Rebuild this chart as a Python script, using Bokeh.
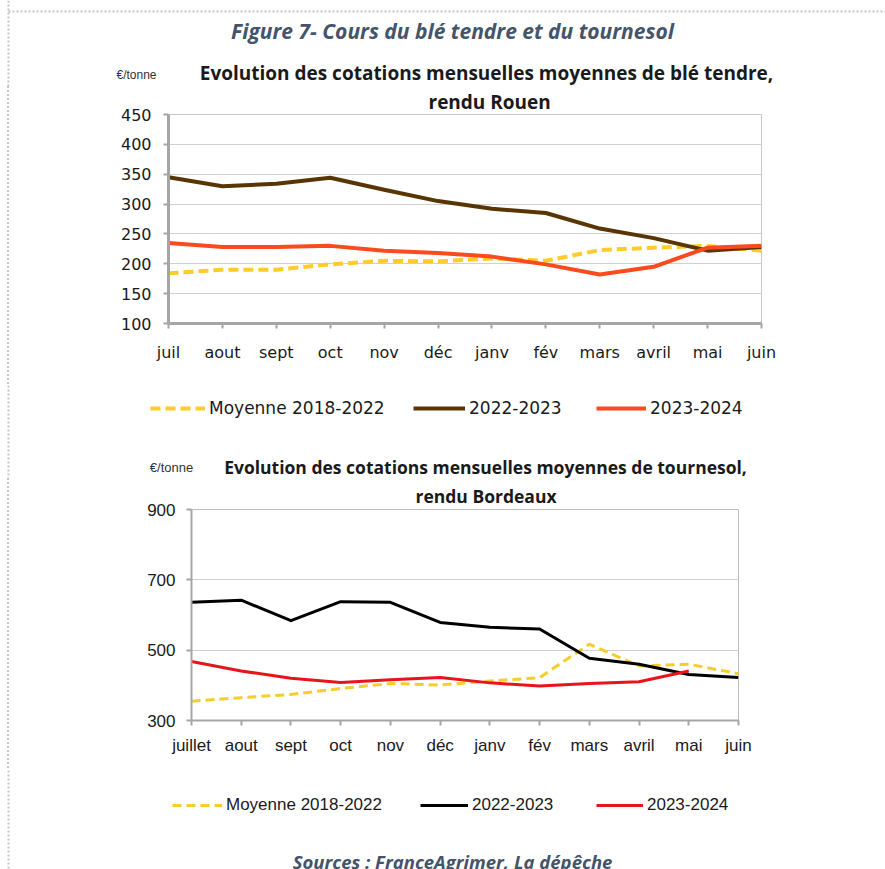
from bokeh.plotting import figure
from bokeh.models import Range1d, Label, Legend, LegendItem, FixedTicker, Span, Title
from bokeh.embed import file_html
from bokeh.resources import INLINE

# ---------------- data ----------------
months_ble = ["juil", "aout", "sept", "oct", "nov", "déc", "janv", "fév", "mars", "avril", "mai", "juin"]
months_tou = ["juillet", "aout", "sept", "oct", "nov", "déc", "janv", "fév", "mars", "avril", "mai", "juin"]

ble_moy_2018_2022 = [184, 190, 190, 199, 205, 204, 209, 205, 223, 227, 230, 222]
ble_2022_2023 = [345, 330, 334, 344, 324, 305, 292, 285, 259, 243, 222, 228]
ble_2023_2024 = [235, 228, 228, 230, 222, 218, 212, 199, 182, 195, 227, 230]

tou_moy_2018_2022 = [355, 365, 374, 391, 405, 401, 412, 422, 517, 455, 460, 433]
tou_2022_2023 = [636, 642, 584, 638, 636, 579, 565, 560, 477, 460, 431, 422]
tou_2023_2024 = [468, 441, 420, 408, 416, 422, 407, 398, 405, 410, 441]

ble_ticks = [100, 150, 200, 250, 300, 350, 400, 450]
tou_ticks = [300, 500, 700, 900]

series_labels = ["Moyenne 2018-2022", "2022-2023", "2023-2024"]

figure_title = "Figure 7- Cours du blé tendre et du tournesol"
ble_title = ["Evolution des cotations mensuelles moyennes de blé tendre,", "rendu Rouen"]
tou_title = ["Evolution des cotations mensuelles moyennes de tournesol,", "rendu Bordeaux"]
unit_label = "€/tonne"
sources = "Sources : FranceAgrimer, La dépêche"

# ---------------- styling ----------------
W = 885
TITLE_COLOR = "#44546A"
BORDER_COLOR = "#c4c4c4"
FONT1 = "DejaVu Sans"
FONT2 = "Liberation Sans"
TFONT = "Open Sans"

ble_colors = ["#ffcc29", "#5a3504", "#fb4a1d"]
tou_colors = ["#f5cd2e", "#000000", "#e8141c"]

# bands (page y): header 0-86, chart1 86-385, mid 385-478, chart2 478-770, foot 770-869
Y_C1, Y_MID, Y_C2, Y_FOOT = 86, 385, 478, 770
H_HEAD = Y_C1
H_C1 = Y_MID - Y_C1
H_MID = Y_C2 - Y_MID
H_C2 = Y_FOOT - Y_C2
H_FOOT = 869 - Y_FOOT

LEFT_DOTS = {
    "background-image": f"linear-gradient(to bottom, {BORDER_COLOR} 50%, rgba(255,255,255,0) 50%)",
    "background-size": "2px 4px",
    "background-repeat": "repeat-y",
    "background-position": "7px 0px",
}


def deco_fig(height):
    p = figure(width=W, height=height, output_backend="svg", toolbar_location=None,
               x_range=Range1d(0, W), y_range=Range1d(height, 0),
               x_axis_type=None, y_axis_type=None,
               min_border_left=0, min_border_right=0, min_border_top=0, min_border_bottom=0)
    p.outline_line_color = None
    p.background_fill_color = None
    p.border_fill_color = None
    p.add_layout(Span(location=8, dimension="height", line_color=BORDER_COLOR,
                      line_width=2, line_dash="2 2"))
    return p


def add_label(p, x, y, text, size, font, color="#1a1a1a", style="normal", align="center"):
    p.add_layout(Label(x=x, y=y, text=text, text_align=align, text_baseline="middle",
                       text_font=font, text_font_size=f"{size}px",
                       text_font_style=style, text_color=color))


def add_legend_item(p, height, gx, cy, label, renderer, glyph_w, font, size):
    leg = Legend(items=[LegendItem(label=label, renderers=[renderer])],
                 location=(gx, height - cy - 10), orientation="horizontal",
                 glyph_width=glyph_w, glyph_height=20, label_height=20,
                 label_standoff=4, padding=0, margin=0, spacing=0,
                 border_line_alpha=0, background_fill_alpha=0,
                 inactive_fill_alpha=0, click_policy="none",
                 label_text_font=font, label_text_font_size=f"{size}px",
                 label_text_color="#1a1a1a", label_text_baseline="middle")
    p.add_layout(leg)


def chart_fig(height, left, right, top, bottom, xr, yr, font, size, axis_w):
    p = figure(width=W, height=height, output_backend="svg", toolbar_location=None,
               x_range=xr, y_range=yr,
               min_border_left=left, min_border_right=right,
               min_border_top=top, min_border_bottom=bottom,
               styles=LEFT_DOTS)
    p.border_fill_color = None
    p.background_fill_color = "white"
    p.outline_line_color = "#c8c8c8"
    p.outline_line_width = 1
    p.xgrid.grid_line_color = None
    p.ygrid.grid_line_color = "#d0d0d0"
    p.ygrid.grid_line_width = 1
    for ax in (p.xaxis[0], p.yaxis[0]):
        ax.axis_line_color = "#a6a6a6"
        ax.axis_line_width = axis_w
        ax.major_tick_line_color = "#a6a6a6"
        ax.major_tick_line_width = 2
        ax.major_tick_out = 5
        ax.major_tick_in = 0
        ax.minor_tick_line_color = None
        ax.major_label_text_font = font
        ax.major_label_text_font_size = f"{size}px"
        ax.major_label_text_color = "#1a1a1a"
    return p


def add_subtitle(p, text, left_px, frame_left, size, standoff):
    p.add_layout(Title(text=text, align="left", offset=left_px - frame_left,
                       standoff=standoff, text_font=TFONT, text_font_size=f"{size}px",
                       text_font_style="bold", text_color="#1a1a1a"), "above")


# ---------------- header (title + chart 1 title) ----------------
head = deco_fig(H_HEAD)
head.segment(x0=[8], y0=[11], x1=[W], y1=[11], line_color=BORDER_COLOR, line_width=2, line_dash="2 2")
add_label(head, 452, 30, figure_title, 21, TFONT, color=TITLE_COLOR, style="bold italic")
add_label(head, 136, 74, unit_label, 12, FONT2, color="#333333")
add_label(head, 486, 72.5, ble_title[0], 19, TFONT, style="bold")

# ---------------- chart 1 : blé tendre ----------------
x1 = list(range(len(months_ble)))
p1 = chart_fig(H_C1, 168, W - 761, 114 - Y_C1, H_C1 - (114 - Y_C1) - 209,
               Range1d(0, len(months_ble) - 1), Range1d(ble_ticks[0], ble_ticks[-1]),
               FONT1, 16, 3)
add_subtitle(p1, ble_title[1], 428, 168, 19, 0)
p1.xaxis.ticker = FixedTicker(ticks=x1)
p1.xaxis.major_label_overrides = {i: m for i, m in enumerate(months_ble)}
p1.xaxis.major_label_standoff = 14
p1.yaxis.ticker = FixedTicker(ticks=ble_ticks)
p1.yaxis.major_label_standoff = 12

p1.line(x1, ble_moy_2018_2022, line_color=ble_colors[0], line_width=4, line_dash="10 5")
p1.line(x1, ble_2022_2023, line_color=ble_colors[1], line_width=4, line_join="round")
p1.line(x1, ble_2023_2024, line_color=ble_colors[2], line_width=4, line_join="round")

# ---------------- middle band: legend 1 + chart 2 title ----------------
mid = deco_fig(H_MID)
m_a = mid.line(x1, ble_moy_2018_2022, line_color=ble_colors[0], line_width=4, line_dash="10 5", visible=False)
m_b = mid.line(x1, ble_2022_2023, line_color=ble_colors[1], line_width=4, visible=False)
m_c = mid.line(x1, ble_2023_2024, line_color=ble_colors[2], line_width=4, visible=False)
add_legend_item(mid, H_MID, 150, 408 - Y_MID, series_labels[0], m_a, 55, FONT1, 17)
add_legend_item(mid, H_MID, 413, 408 - Y_MID, series_labels[1], m_b, 52, FONT1, 17)
add_legend_item(mid, H_MID, 596, 408 - Y_MID, series_labels[2], m_c, 50, FONT1, 17)
add_label(mid, 171, 467 - Y_MID, unit_label, 13, FONT2, color="#333333")
add_label(mid, 485, 466 - Y_MID, tou_title[0], 17.5, TFONT, style="bold")

# ---------------- chart 2 : tournesol ----------------
x2 = list(range(len(months_tou)))
x2r = list(range(len(tou_2023_2024)))
p2 = chart_fig(H_C2, 191, W - 738, 509 - Y_C2, H_C2 - (509 - Y_C2) - 211,
               Range1d(0, len(months_tou) - 1), Range1d(tou_ticks[0], tou_ticks[-1]),
               FONT2, 17, 2)
add_subtitle(p2, tou_title[1], 415, 191, 17.5, 3)
p2.outline_line_color = "#bdbdbd"
p2.xaxis.ticker = FixedTicker(ticks=x2)
p2.xaxis.major_label_overrides = {i: m for i, m in enumerate(months_tou)}
p2.xaxis.major_label_standoff = 10
p2.yaxis.ticker = FixedTicker(ticks=tou_ticks)
p2.yaxis.major_label_standoff = 11

p2.line(x2, tou_moy_2018_2022, line_color=tou_colors[0], line_width=3, line_dash="9 5")
p2.line(x2, tou_2022_2023, line_color=tou_colors[1], line_width=3, line_join="round")
p2.line(x2r, tou_2023_2024, line_color=tou_colors[2], line_width=3, line_join="round")

# ---------------- footer: legend 2 + sources ----------------
foot = deco_fig(H_FOOT)
f_a = foot.line(x2, tou_moy_2018_2022, line_color=tou_colors[0], line_width=3, line_dash="9 5", visible=False)
f_b = foot.line(x2, tou_2022_2023, line_color=tou_colors[1], line_width=3, visible=False)
f_c = foot.line(x2r, tou_2023_2024, line_color=tou_colors[2], line_width=3, visible=False)
add_legend_item(foot, H_FOOT, 172, 805 - Y_FOOT, series_labels[0], f_a, 50, FONT2, 17)
add_legend_item(foot, H_FOOT, 420, 805 - Y_FOOT, series_labels[1], f_b, 48, FONT2, 17)
add_legend_item(foot, H_FOOT, 596, 805 - Y_FOOT, series_labels[2], f_c, 47, FONT2, 17)
add_label(foot, 452, 861 - Y_FOOT, sources, 18.5, TFONT, color=TITLE_COLOR, style="bold italic")

open("out.html", "w").write(file_html([head, p1, mid, p2, foot], INLINE))
